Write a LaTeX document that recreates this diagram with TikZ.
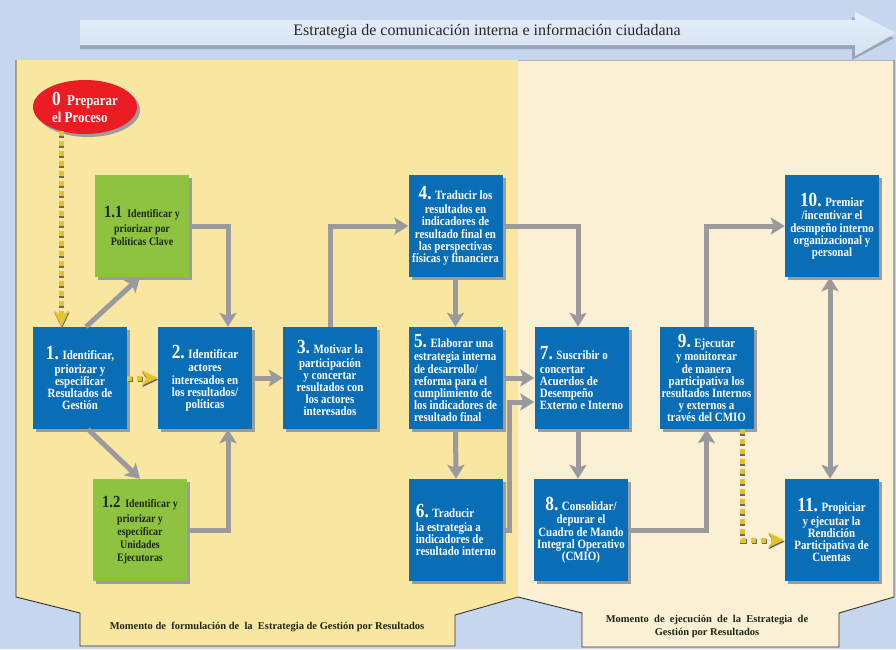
\documentclass[tikz,border=0pt]{standalone}
\usepackage{fontspec}
\setmainfont{Liberation Serif}
\newfontfamily\bxf[FakeStretch=0.86]{Liberation Serif}
\usetikzlibrary{arrows.meta,shapes.geometric,shadows,calc}
\definecolor{bgblue}{HTML}{C5D6EE}
\definecolor{leftpanel}{HTML}{F8E6A1}
\definecolor{rightpanel}{HTML}{FBF0D3}
\definecolor{boxblue}{HTML}{0A6EB7}
\definecolor{boxgreen}{HTML}{8DC340}
\definecolor{greentext}{HTML}{1E2616}
\definecolor{arrgray}{HTML}{9A9A9E}
\definecolor{shgray}{HTML}{9C9C9C}
\definecolor{dotyellow}{HTML}{E5C12A}
\definecolor{ellred}{HTML}{EC1C24}
\definecolor{outl}{HTML}{333333}
\definecolor{arrlight}{HTML}{E6EFF9}
\definecolor{arrmid}{HTML}{D3E1F1}
\definecolor{arrdark}{HTML}{9AA6B8}
\newcommand\bignum[1]{{\fontsize{20}{12}\selectfont #1}}
\newcommand\midnum[1]{{\fontsize{17}{12}\selectfont #1}}
\begin{document}
\begin{tikzpicture}[x=1pt,y=-1pt,
  bbox/.style={fill=boxblue, text=white, minimum width=94pt, minimum height=102pt,
    inner sep=0pt, align=center,
    font=\bxf\bfseries\fontsize{12.7}{12.2}\selectfont,
    drop shadow={shadow xshift=3pt,shadow yshift=-3pt,fill=shgray,opacity=1}},
  lbox/.style={bbox, align=left},
  gbox/.style={bbox, fill=boxgreen, text=greentext,
    font=\bxf\bfseries\fontsize{11.5}{13}\selectfont},
  garrow/.style={draw=arrgray, line width=5pt, -{Stealth[width=17pt,length=14pt,inset=3pt]}},
  garrowboth/.style={draw=arrgray, line width=5pt, {Stealth[width=17pt,length=14pt,inset=3pt]}-{Stealth[width=17pt,length=14pt,inset=3pt]}},
  yarrow/.style={draw=dotyellow, line width=5pt, dash pattern=on 5pt off 5pt,
    -{Stealth[width=15pt,length=16pt,inset=5pt]}},
  yshadow/.style={draw=black!60, line width=5pt, dash pattern=on 5pt off 5pt,
    transform canvas={xshift=0.4pt,yshift=-1.6pt},
    -{Stealth[width=15pt,length=16pt,inset=5pt]}},
  outline/.style={draw=outl, line width=0.9pt},
  bottomtext/.style={font=\bfseries\fontsize{10.5}{13}\selectfont, text=greentext, align=center}
]
\useasboundingbox (0,0) rectangle (896,649);
\fill[bgblue] (0,0) rectangle (896,649);

% panels
\fill[leftpanel] (16,60) -- (518,60) -- (518,597) -- (455,615) -- (455,646) -- (80,646) -- (80,613) -- (16,597) -- cycle;
\fill[rightpanel] (518,60) -- (894,60) -- (894,597) -- (839,613) -- (839,647) -- (582,647) -- (582,613) -- (518,597) -- cycle;
\draw[outline] (16,60) -- (16,597) -- (80,613) -- (80,646) -- (455,646) -- (455,615) -- (518,597);
\draw[outline] (518,597) -- (582,613) -- (582,647) -- (839,647) -- (839,613) -- (894,597) -- (894,60);
\draw[gray!60, line width=0.6pt] (518,60) -- (894,60);

% top arrow
\fill[arrdark] (80,25) -- (852,25) -- (852,17) -- (894,38) -- (852,60) -- (852,49) -- (80,49) -- cycle;
\shade[top color=arrlight, bottom color=arrmid] (80,20) -- (855,20) -- (855,12) -- (896,33) -- (855,56) -- (855,45) -- (80,45) -- cycle;
\node[font=\fontsize{16}{18}\selectfont, text=black!85] (title) at (487,32) {Estrategia de comunicación interna e información ciudadana};

% nodes
\node[ellipse, fill=ellred, minimum width=104pt, minimum height=54pt, inner sep=0pt,
  text=white, align=left, font=\bxf\bfseries\fontsize{15}{16}\selectfont,
  drop shadow={shadow xshift=3pt,shadow yshift=-3pt,fill=shgray,opacity=1}]
  (b0) at (85,107) {\bignum{0}\ \ Preparar\\[1pt]el Proceso};

\node[gbox] (b1a) at (142,226) {\midnum{1.1}\ \ Identificar y\\[1.5pt]priorizar por\\Políticas Clave};
\node[bbox] (b1) at (80,378) {\bignum{1.} Identificar,\\[1.5pt]priorizar y\\especificar\\Resultados de\\Gestión};
\node[bbox] (b2) at (205,378) {\bignum{2.} Identificar\\[1.5pt]actores\\interesados en\\los resultados/\\políticas};
\node[gbox] (b1b) at (140,530) {\midnum{1.2}\ \ Identificar y\\[1.5pt]priorizar y\\especificar\\Unidades\\Ejecutoras};
\node[bbox] (b3) at (330,378) {\bignum{3.} Motivar la\\[1.5pt]participación\\y concertar\\resultados con\\los actores\\interesados};
\node[bbox] (b4) at (455.5,226) {\bignum{4.} Traducir los\\[1.5pt]resultados en\\indicadores de\\resultado final en\\las perspectivas\\físicas y financiera};
\node[lbox] (b5) at (455.5,378) {\bignum{5.} Elaborar una\\[1.5pt]estrategia interna\\de desarrollo/\\reforma para el\\cumplimiento de\\los indicadores de\\resultado final};
\node[lbox] (b6) at (456,530) {\bignum{6.} Traducir\\[1.5pt]la estrategia a\\indicadores de\\resultado interno};
\node[lbox] (b7) at (581.5,378) {\bignum{7.} Suscribir o\\[1.5pt]concertar\\Acuerdos de\\Desempeño\\Externo e Interno};
\node[bbox] (b8) at (581,530) {\bignum{8.} Consolidar/\\[1.5pt]depurar el\\Cuadro de Mando\\Integral Operativo\\(CMIO)};
\node[bbox] (b9) at (706.5,378) {\bignum{9.} Ejecutar\\[1.5pt]y monitorear\\de manera\\participativa los\\resultados Internos\\y externos a\\través del CMIO};
\node[bbox] (b10) at (832,226) {\bignum{10.} Premiar\\[1.5pt]/incentivar el\\desmpeño interno\\organizacional y\\personal};
\node[bbox] (b11) at (831.5,530) {\bignum{11.} Propiciar\\[1.5pt]y ejecutar la\\Rendición\\Participativa de\\Cuentas};

% gray connectors
\draw[garrow] ([xshift=6pt]b1.north) -- ([xshift=-2pt]b1a.south);
\draw[garrow] (b1a.east) -| ([xshift=23pt]b2.north);
\draw[garrow] ([xshift=8pt]b1.south) -- (b1b.north);
\draw[garrow] (b1b.east) -| ([xshift=23pt]b2.south);
\draw[garrow] (b2.east) -- (b3.west);
\draw[garrow] (b3.north) |- (b4.west);
\draw[garrow] (b4.south) -- (b5.north);
\draw[garrow] (b4.east) -| ([xshift=-3.5pt]b7.north);
\draw[garrow] (b5.east) -- (b7.west);
\draw[garrow] (b5.south) -- (b6.north);
\draw[garrow] (b6.east) -- ++(6,0) |- ([yshift=-24pt]b7.west);
\draw[garrow] ([xshift=-3.5pt]b7.south) -- ([xshift=-3pt]b8.north);
\draw[garrow] (b8.east) -| (b9.south);
\draw[garrow] (b9.north) |- (b10.west);
\draw[garrowboth] ([xshift=-2pt]b10.south) -- ([xshift=-1.5pt]b11.north);

% yellow dotted connectors
\draw[yshadow] (b0.226) -- (b0.226 |- b1.north);
\draw[yarrow] (b0.226) -- (b0.226 |- b1.north);
\draw[yshadow] (b1.east) -- (b2.west);
\draw[yarrow] (b1.east) -- (b2.west);
\draw[yshadow] ([xshift=35.5pt]b9.south) |- ([yshift=-10pt]b11.west);
\draw[yarrow] ([xshift=35.5pt]b9.south) |- ([yshift=-10pt]b11.west);

% bottom texts
\node[bottomtext] (lt) at (267,627) {Momento de\ \ formulación de\ \ la\ \ Estrategia de Gestión por Resultados};
\node[bottomtext] (rt) at (707,626.5) {Momento\ \ de\ \ ejecución\ \ de\ \ la\ \ Estrategia\ \ de\\Gestión por Resultados};
\end{tikzpicture}
\end{document}
